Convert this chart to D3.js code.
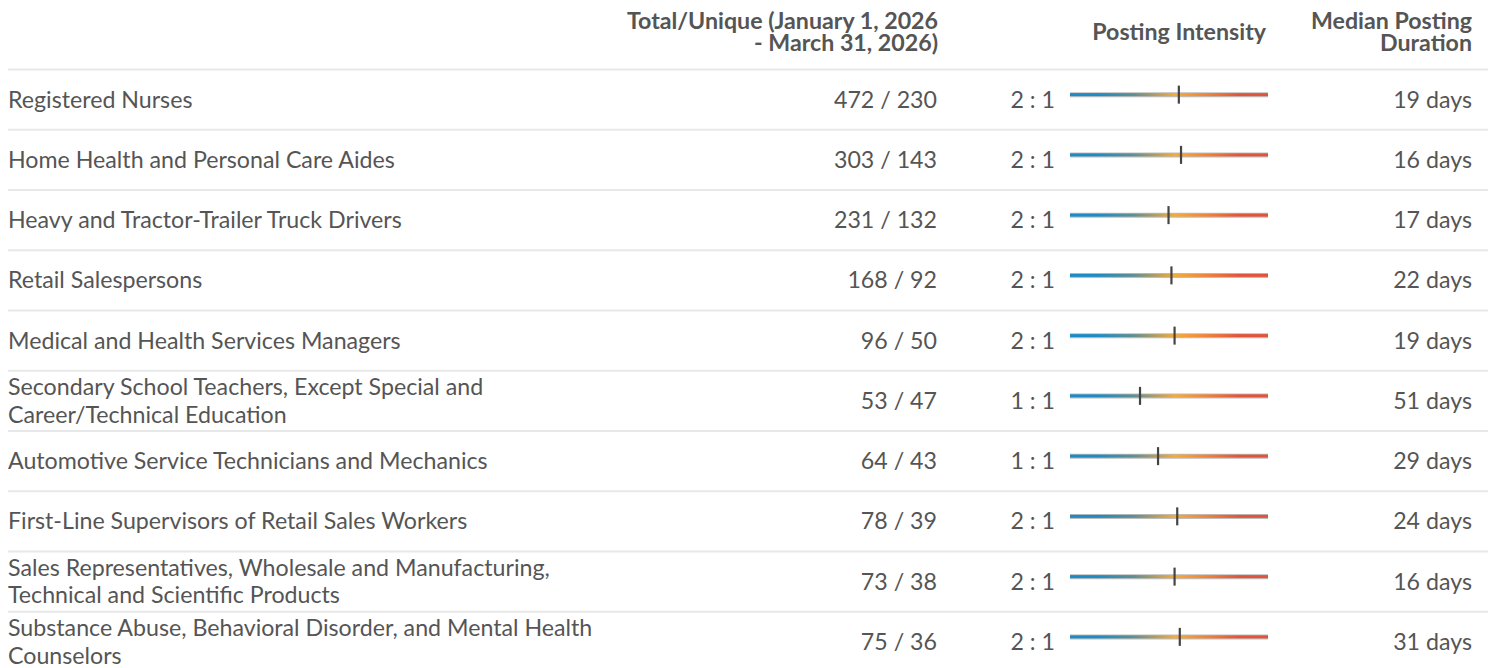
<!DOCTYPE html>
<html><head><meta charset="utf-8">
<script src="https://cdn.jsdelivr.net/npm/d3@7"></script>
<style>body{margin:0;background:#fff;}svg{display:block;font-family:Lato,sans-serif;}</style>
</head><body><div id="chart"></div>
<script>
const occupations = [
  ["Registered Nurses"],
  ["Home Health and Personal Care Aides"],
  ["Heavy and Tractor-Trailer Truck Drivers"],
  ["Retail Salespersons"],
  ["Medical and Health Services Managers"],
  ["Secondary School Teachers, Except Special and", "Career/Technical Education"],
  ["Automotive Service Technicians and Mechanics"],
  ["First-Line Supervisors of Retail Sales Workers"],
  ["Sales Representatives, Wholesale and Manufacturing,", "Technical and Scientific Products"],
  ["Substance Abuse, Behavioral Disorder, and Mental Health", "Counselors"]
];
const totalPostings = [472, 303, 231, 168, 96, 53, 64, 78, 73, 75];
const uniquePostings = [230, 143, 132, 92, 50, 47, 43, 39, 38, 36];
const intensityLabels = ["2 : 1","2 : 1","2 : 1","2 : 1","2 : 1","1 : 1","1 : 1","2 : 1","2 : 1","2 : 1"];
const intensityValues = [2.05, 2.12, 1.75, 1.83, 1.92, 1.13, 1.49, 2.0, 1.92, 2.08];
const durationDays = [19, 16, 17, 22, 19, 51, 29, 24, 16, 31];
const headerTotal = ["Total/Unique (January 1, 2026", "- March 31, 2026)"];
const headerIntensity = ["Posting Intensity"];
const headerDuration = ["Median Posting", "Duration"];

const W = 1497, H = 668;
const svg = d3.select("#chart").append("svg").attr("width", W).attr("height", H);
const textColor = "#555";

const defs = svg.append("defs");
const grad = defs.append("linearGradient").attr("id","ig").attr("x1","0%").attr("x2","100%");
[[0,"#1b8bc9"],[0.14,"#1e8bc4"],[0.32,"#5e8f92"],[0.53,"#f6ab38"],[0.7,"#f08038"],[0.85,"#e2553a"],[1,"#e2533a"]]
  .forEach(([o,c]) => grad.append("stop").attr("offset", o).attr("stop-color", c));

const y = d3.scaleBand().domain(d3.range(occupations.length)).range([69.5, 69.5 + 60.25*occupations.length]);
const x = d3.scaleLog().domain([0.386, 8.05]).range([1070, 1268]);

// header
const hdr = svg.append("g").attr("fill", textColor).attr("font-weight", 700).attr("font-size", 23.2).attr("text-anchor","end");
headerTotal.forEach((t,i) => hdr.append("text").attr("x", 938).attr("y", 29 + i*22).text(t));
hdr.append("text").attr("x", 1266).attr("y", 40).text(headerIntensity[0]);
headerDuration.forEach((t,i) => hdr.append("text").attr("x", 1472).attr("y", 29 + i*22).text(t));

// separator lines
svg.append("g").selectAll("line").data(d3.range(occupations.length)).join("line")
  .attr("x1", 8).attr("x2", 1488)
  .attr("y1", i => y(i)).attr("y2", i => y(i))
  .attr("stroke", "#e8e8e8").attr("stroke-width", 2);

const rows = svg.append("g").selectAll("g").data(d3.range(occupations.length)).join("g")
  .attr("transform", i => `translate(0,${y(i) + y.bandwidth()/2})`);

const fs = 23.2;
rows.each(function(i){
  const g = d3.select(this);
  const lines = occupations[i];
  const t = g.append("text").attr("fill", textColor).attr("font-size", fs).attr("x", 8);
  lines.forEach((l,k) => t.append("tspan").attr("x", 8)
    .attr("y", (k - (lines.length-1)/2) * 27.5 + 8).text(l));
  g.append("text").attr("fill", textColor).attr("font-size", fs).attr("text-anchor","end")
    .attr("x", 937).attr("y", 8).text(`${totalPostings[i]} / ${uniquePostings[i]}`);
  g.append("text").attr("fill", textColor).attr("font-size", fs).attr("text-anchor","end")
    .attr("x", 1055).attr("y", 8).text(intensityLabels[i]);
  g.append("line").attr("x1", x.range()[0]).attr("x2", x.range()[1]).attr("y1",-5).attr("y2",-5)
    .attr("stroke", "#bdbdbd").attr("stroke-width", 5);
  g.append("rect").attr("x", x.range()[0]).attr("width", x.range()[1]-x.range()[0])
    .attr("y", -6.5).attr("height", 3).attr("fill", "url(#ig)");
  g.append("line").attr("x1", x(intensityValues[i])).attr("x2", x(intensityValues[i]))
    .attr("y1", -14).attr("y2", 4).attr("stroke", "#444").attr("stroke-width", 2.2);
  g.append("text").attr("fill", textColor).attr("font-size", fs).attr("text-anchor","end")
    .attr("x", 1472).attr("y", 8).text(`${durationDays[i]} days`);
});
</script></body></html>
